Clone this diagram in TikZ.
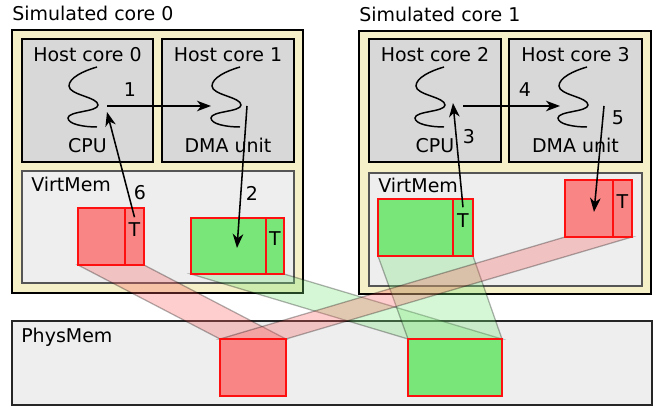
\documentclass[tikz,border=0pt]{standalone}
\usepackage{fontspec}
\setmainfont{DejaVu Sans}
\usepackage{tikz}
\usetikzlibrary{arrows.meta,calc,fit}
\definecolor{simYellow}{HTML}{F5F0C8}
\definecolor{hostGray}{HTML}{D8D8D8}
\definecolor{memGray}{HTML}{EEEEEE}
\definecolor{memEdge}{HTML}{555555}
\definecolor{pageRed}{HTML}{F98585}
\definecolor{pageGreen}{HTML}{78E678}
\definecolor{pageEdge}{HTML}{FF1010}
\tikzset{
    boxBase/.style={
        rectangle,
        inner sep=0pt,
        line width=1.4pt
    },
    % Containers
    simcore/.style={boxBase, fill=simYellow, draw=black},
    hostcore/.style={boxBase, fill=hostGray, draw=black},
    virtmem/.style={boxBase, fill=memGray, draw=memEdge},
    physmem/.style={boxBase, fill=memGray, draw=black!85},
    % Pages
    pageBase/.style={
        rectangle,
        inner sep=0pt,
        line width=1.1pt,
        draw=pageEdge,
        font=\fontsize{13.5}{15}\selectfont
    },
    redpage/.style={pageBase, fill=pageRed},
    greenpage/.style={pageBase, fill=pageGreen},
    % Mapping bands
    bandBase/.style={draw=black, draw opacity=0.3, line width=0.9pt, fill opacity=0.3},
    redband/.style={bandBase, fill=pageRed!70!red},
    greenband/.style={bandBase, fill=pageGreen},
    % Text and arrows
    lbl/.style={font=\fontsize{13.5}{15}\selectfont, inner sep=0pt},
    num/.style={lbl},
    arr/.style={-{Stealth[length=10pt, width=7.5pt, inset=3pt]}, line width=1.1pt},
    thread/.pic={
        \draw[line width=1.05pt] (14,-30) .. controls (0,-26) and (-14,-19) .. (-14,-11)
            .. controls (-14,-2) and (15,0) .. (15,8)
            .. controls (15,15) and (-15,14) .. (-15,21)
            .. controls (-15,27) and (0,30) .. (14,30);
    }
}

\begin{document}
\begin{tikzpicture}[x=0.025cm, y=-0.025cm]
\useasboundingbox (0,0) rectangle (654,407);

% simulated cores
\node[simcore, fit={(12,30) (303,293)}] (sim0) {};
\node[simcore, fit={(359,31) (651,294)}] (sim1) {};
\node[lbl, anchor=base west] (lblSim0) at ($(sim0.north west)+(1,-9)$) {Simulated core 0};
\node[lbl, anchor=base west] (lblSim1) at ($(sim1.north west)+(1,-9)$) {Simulated core 1};

% host cores
\node[hostcore, fit={(22,39) (153,162)}] (host0) {};
\node[hostcore, fit={(162,39) (294,162)}] (host1) {};
\node[hostcore, fit={(369,39) (501,162)}] (host2) {};
\node[hostcore, fit={(509,39) (642,162)}] (host3) {};
\foreach \h/\role in {0/CPU, 1/DMA unit, 2/CPU, 3/DMA unit} {
    \node[lbl, anchor=base] (lblHost\h) at ($(host\h.north)+(0,23)$) {Host core \h};
    \node[lbl, anchor=base] (lblRole\h) at ($(host\h.south)+(0,-10)$) {\role};
}
\pic (thr0) at (83,97) {thread};
\pic (thr1) at (226,97) {thread};
\pic (thr2) at (430,97) {thread};
\pic (thr3) at (573,97) {thread};

% memories
\node[virtmem, fit={(22,171) (294,283)}] (virt0) {};
\node[virtmem, fit={(369,173) (642,286)}] (virt1) {};
\node[physmem, fit={(12,321) (652,405)}] (phys) {};
\node[lbl, anchor=base west] (lblVirt0) at ($(virt0.north west)+(10,21)$) {VirtMem};
\node[lbl, anchor=base west] (lblVirt1) at ($(virt1.north west)+(10,20)$) {VirtMem};
\node[lbl, anchor=base west] (lblPhys) at ($(phys.north west)+(10,22)$) {PhysMem};

% mapping bands
\filldraw[redband] (78,265) -- (144,265) -- (286,339) -- (220,339) -- cycle;
\filldraw[greenband] (191,274) -- (284,274) -- (502,339) -- (408,339) -- cycle;
\filldraw[greenband] (378,256) -- (473,256) -- (502,339) -- (408,339) -- cycle;
\filldraw[redband] (565,237) -- (632,237) -- (286,339) -- (220,339) -- cycle;

% pages
\node[redpage, fit={(78,208) (125,265)}] (pgR0) {};
\node[redpage, fit={(125,208) (144,265)}] (pgR0t) {T};
\node[greenpage, fit={(191,218) (266,274)}] (pgG0) {};
\node[greenpage, fit={(266,218) (284,274)}] (pgG0t) {T};
\node[greenpage, fit={(378,199) (453,256)}] (pgG1) {};
\node[greenpage, fit={(453,199) (473,256)}] (pgG1t) {T};
\node[redpage, fit={(565,180) (613,237)}] (pgR1) {};
\node[redpage, fit={(613,180) (632,237)}] (pgR1t) {T};
\node[redpage, fit={(220,339) (286,396)}] (physR) {};
\node[greenpage, fit={(408,339) (502,396)}] (physG) {};

% arrow ends
\coordinate (cpu0out) at (107,106);
\coordinate (cpu0in) at (107,112);
\coordinate (dma0in) at (211,106);
\coordinate (dma0out) at (247,106);
\coordinate (tag0) at ($(pgR0t.north)+(0,10)$);
\coordinate (buf0) at (237,248);
\coordinate (cpu1in) at (453,103);
\coordinate (cpu1out) at (463,106);
\coordinate (dma1in) at (560,106);
\coordinate (dma1out) at (604,106);
\coordinate (tag1) at ($(pgG1t.north)+(0,9)$);
\coordinate (buf1) at (594,212);

\draw[arr] (cpu0out) -- (dma0in);
\draw[arr] (dma0out) -- (buf0);
\draw[arr] (tag0) -- (cpu0in);
\draw[arr] (tag1) -- (cpu1in);
\draw[arr] (cpu1out) -- (dma1in);
\draw[arr] (dma1out) -- (buf1);

\node[num] (n1) at (130,90) {1};
\node[num] (n2) at (252,193) {2};
\node[num] (n3) at (469,137) {3};
\node[num] (n4) at (525,90) {4};
\node[num] (n5) at (618,118) {5};
\node[num] (n6) at (140,193) {6};
\end{tikzpicture}
\end{document}
